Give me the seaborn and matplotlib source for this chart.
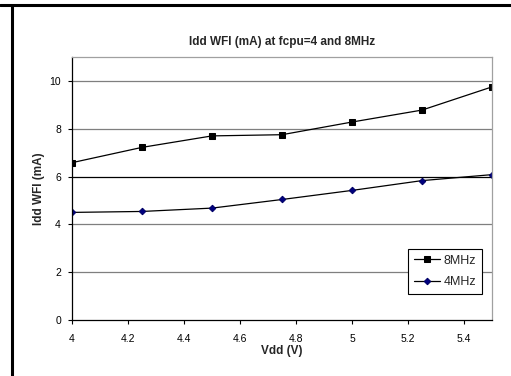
import numpy as np
import pandas as pd
import seaborn as sns
import matplotlib.pyplot as plt
from matplotlib.lines import Line2D

vdd = [4.0, 4.25, 4.5, 4.75, 5.0, 5.25, 5.5]
idd_8mhz = [6.58, 7.22, 7.7, 7.75, 8.28, 8.78, 9.75]
idd_4mhz = [4.5, 4.54, 4.68, 5.04, 5.42, 5.83, 6.08]
series_names = ["8MHz", "4MHz"]

df = pd.DataFrame({
    "Vdd": vdd * 2,
    "Idd": idd_8mhz + idd_4mhz,
    "series": [series_names[0]] * len(vdd) + [series_names[1]] * len(vdd),
})

sns.set_theme(style="white")
plt.rcParams['font.family'] = ['Liberation Sans', 'DejaVu Sans']

fig = plt.figure(figsize=(5.11, 3.76), dpi=100)
ax = fig.add_axes([72 / 511, 56 / 376, 420 / 511, 263 / 376])

# horizontal grid
for yv in [2, 4, 6, 8, 10]:
    ax.axhline(yv, color='#000000' if yv == 6 else '#7f7f7f', lw=0.9, zorder=0)

sns.lineplot(data=df[df.series == "8MHz"], x="Vdd", y="Idd", color='black', lw=0.9,
             marker='s', markersize=4.8, markeredgecolor='black', markerfacecolor='black',
             label="8MHz", ax=ax)
sns.lineplot(data=df[df.series == "4MHz"], x="Vdd", y="Idd", color='black', lw=0.9,
             marker='D', markersize=3.3, markeredgecolor='#000066', markerfacecolor='#000080',
             label="4MHz", ax=ax)

ax.set_xlim(4, 5.5)
ax.set_ylim(0, 11)
ax.set_xticks([4, 4.2, 4.4, 4.6, 4.8, 5, 5.2, 5.4])
ax.set_xticklabels(["4", "4.2", "4.4", "4.6", "4.8", "5", "5.2", "5.4"])
ax.set_yticks([0, 2, 4, 6, 8, 10])
ax.tick_params(axis='both', which='both', direction='out', length=3, width=0.8,
               labelsize=7.5, colors='black', left=True, bottom=True)
ax.tick_params(axis='x', pad=7)
ax.tick_params(axis='y', pad=5)

for side in ['left', 'bottom']:
    ax.spines[side].set_color('black')
    ax.spines[side].set_linewidth(0.9)
for side in ['top', 'right']:
    ax.spines[side].set_color('#a0a0a0')
    ax.spines[side].set_linewidth(0.9)

ax.set_xlabel("Vdd (V)", fontsize=8.5, fontweight='bold', labelpad=1)
ax.set_ylabel("Idd WFI (mA)", fontsize=8.5, fontweight='bold', labelpad=3)
ax.set_title("Idd WFI (mA) at fcpu=4 and 8MHz", fontsize=8.5, fontweight='bold', pad=9)

leg = ax.legend(loc='lower right', bbox_to_anchor=(0.976, 0.1), fontsize=9, frameon=True,
                fancybox=False, edgecolor='black', framealpha=1, handlelength=2.1,
                handletextpad=0.3, borderpad=0.45, labelspacing=0.75, borderaxespad=0)
leg.get_frame().set_linewidth(0.8)

# page frame lines
fig.add_artist(Line2D([0, 1], [1 - 4.5 / 376, 1 - 4.5 / 376], color='black', lw=2.2))
fig.add_artist(Line2D([11.5 / 511, 11.5 / 511], [0, 1 - 4.5 / 376], color='black', lw=2.2))

fig.savefig("out.png", dpi=100)
